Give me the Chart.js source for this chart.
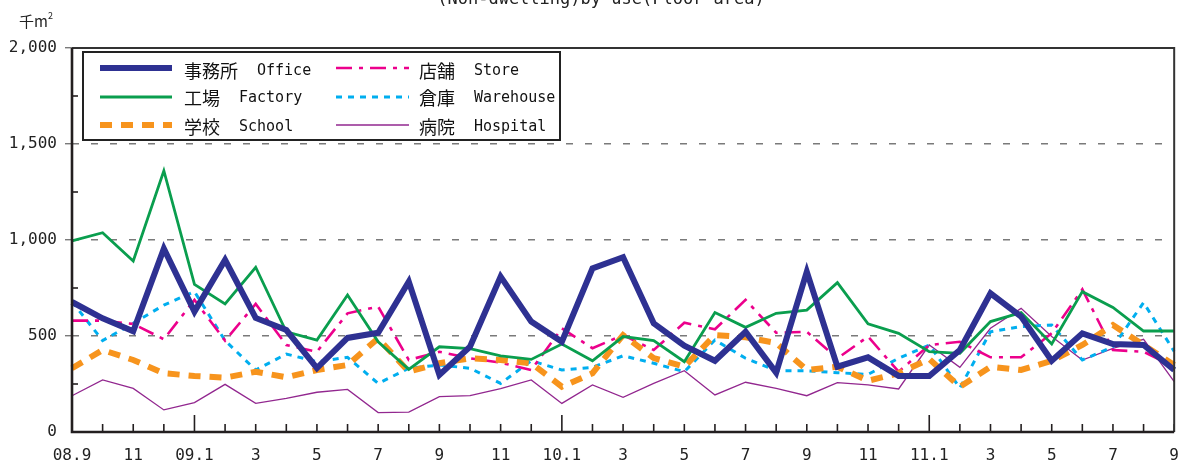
<!DOCTYPE html>
<html><head><meta charset="utf-8">
<script src="https://cdn.jsdelivr.net/npm/chart.js@4"></script>
<style>html,body{margin:0;padding:0;background:#fff;}canvas{display:block}</style>
</head><body>
<canvas id="c" width="1179" height="465"></canvas>
<script>
// ---- data ----
const months = ['08.9','10','11','12','09.1','2','3','4','5','6','7','8','9','10','11','12',
  '10.1','2','3','4','5','6','7','8','9','10','11','12','11.1','2','3','4','5','6','7','8','9'];
const office    = [677,592,525,955,627,896,594,531,333,490,517,783,297,444,809,575,470,852,910,566,450,371,522,309,835,340,389,292,292,427,722,601,371,514,458,453,323];
const factory   = [995,1038,891,1361,769,667,858,522,479,714,470,326,444,434,397,378,458,371,497,476,366,622,545,618,635,778,563,514,418,410,575,622,458,731,649,526,526];
const school    = [332,427,375,306,292,283,314,285,323,349,488,314,358,384,375,358,236,306,505,385,340,505,493,464,323,340,267,306,380,235,340,323,371,453,557,453,349];
const store     = [580,580,563,483,688,476,667,453,418,618,653,375,418,384,361,323,540,436,505,427,569,535,688,517,522,384,497,314,453,470,389,389,514,743,427,418,340];
const warehouse = [679,476,566,661,731,476,323,406,366,389,253,332,349,332,253,371,323,337,397,358,314,479,384,319,319,309,300,384,453,230,522,549,557,375,444,674,420];
const hospital  = [189,271,227,115,153,248,149,175,207,222,101,104,184,189,226,271,149,245,181,253,319,193,259,227,189,257,245,224,453,337,540,644,497,375,436,483,262];
const namesJa = ['事務所','工場','学校','店舗','倉庫','病院'];
const namesEn = ['Office','Factory','School','Store','Warehouse','Hospital'];
const yTickValues = [0,500,1000,1500,2000];
const titleText = '(Non-dwelling)by use(Floor area)';
const unitText = '千m';

// ---- styles ----
const styles = [
  {c:'#2E3192', w:6,   d:[]},
  {c:'#0A9E4E', w:2.8, d:[]},
  {c:'#F7941D', w:6,   d:[12,9]},
  {c:'#EC008C', w:2.6, d:[16,7,4,7]},
  {c:'#00AEEF', w:3,   d:[6,6]},
  {c:'#92278F', w:1.3, d:[]}
];
const series = [office, factory, school, store, warehouse, hospital];

const monoFont = "'DejaVu Sans Mono', 'Liberation Mono', monospace";
const cjkFont = "'Noto Sans CJK JP', 'Noto Sans CJK SC', sans-serif";

const framePlugin = {
  id: 'frame',
  afterDraw(chart) {
    const {ctx, chartArea: a, scales: {x, y}} = chart;
    ctx.save();
    ctx.strokeStyle = '#231F20';
    // inward x ticks
    ctx.lineWidth = 1.6;
    for (let i = 1; i < months.length; i++) {
      const px = x.getPixelForTick(i);
      const len = months[i].includes('.') ? 17 : 8;
      ctx.beginPath(); ctx.moveTo(px, a.bottom); ctx.lineTo(px, a.bottom - len); ctx.stroke();
    }
    // inward y ticks
    y.ticks.forEach(t => {
      if (t.value % 500 !== 0) {
        const py = y.getPixelForValue(t.value);
        ctx.beginPath(); ctx.moveTo(a.left, py); ctx.lineTo(a.left + 6, py); ctx.stroke();
      }
    });
    // frame
    ctx.lineWidth = 2;
    ctx.strokeStyle = '#333';
    ctx.beginPath(); ctx.moveTo(a.left, a.top); ctx.lineTo(a.right, a.top); ctx.lineTo(a.right, a.bottom); ctx.stroke();
    ctx.lineWidth = 2.6;
    ctx.strokeStyle = '#231F20';
    ctx.beginPath(); ctx.moveTo(a.left, a.top); ctx.lineTo(a.left, a.bottom); ctx.lineTo(a.right, a.bottom); ctx.stroke();

    // title (cut off at top) and unit
    ctx.fillStyle = '#222';
    ctx.font = '17px ' + monoFont;
    ctx.textAlign = 'center'; ctx.textBaseline = 'alphabetic';
    ctx.fillText(titleText, 601, 4);
    ctx.textAlign = 'left';
    ctx.font = '15px ' + cjkFont;
    ctx.fillText(unitText, 19, 27);
    const w = ctx.measureText(unitText).width;
    ctx.font = '9px ' + cjkFont;
    ctx.fillText('2', 19 + w, 19);

    // legend box
    const bx = a.left + 11, by = a.top + 4, bw = 477, bh = 88;
    ctx.fillStyle = '#fff'; ctx.fillRect(bx, by, bw, bh);
    ctx.strokeStyle = '#222'; ctx.lineWidth = 2; ctx.strokeRect(bx, by, bw, bh);
    const cols = [{lx: bx + 17, lw: 72, tx: bx + 101}, {lx: bx + 253, lw: 73, tx: bx + 336}];
    const lineY = [by + 16, by + 45, by + 73];
    const textY = [by + 19, by + 46.5, by + 75];
    const place = [[0,0],[1,0],[2,0],[0,1],[1,1],[2,1]]; // [row, col] per dataset
    chart.data.datasets.forEach((ds, i) => {
      const [r, cI] = place[i];
      const col = cols[cI];
      ctx.save();
      ctx.strokeStyle = ds.borderColor; ctx.lineWidth = ds.borderWidth;
      ctx.setLineDash(ds.borderDash || []);
      ctx.beginPath(); ctx.moveTo(col.lx, lineY[r]); ctx.lineTo(col.lx + col.lw, lineY[r]); ctx.stroke();
      ctx.restore();
      ctx.fillStyle = '#111';
      ctx.textBaseline = 'middle'; ctx.textAlign = 'left';
      ctx.font = '18px ' + cjkFont;
      ctx.fillText(namesJa[i], col.tx, textY[r]);
      ctx.font = '15px ' + monoFont;
      ctx.fillText(namesEn[i], col.tx + namesJa[i].length * 18 + 19, textY[r]);
    });
    ctx.restore();
  }
};

new Chart(document.getElementById('c'), {
  type: 'line',
  data: {
    labels: months,
    datasets: series.map((d, i) => ({
      label: namesJa[i] + '  ' + namesEn[i],
      data: d,
      borderColor: styles[i].c,
      backgroundColor: styles[i].c,
      borderWidth: styles[i].w,
      borderDash: styles[i].d,
      pointRadius: 0,
      tension: 0,
      fill: false
    }))
  },
  options: {
    responsive: false,
    animation: false,
    layout: {padding: {top: 48, right: 3, left: 0, bottom: 0}},
    plugins: {legend: {display: false}, tooltip: {enabled: false}, title: {display: false}},
    elements: {line: {borderCapStyle: 'butt', borderJoinStyle: 'miter'}},
    scales: {
      x: {
        offset: false,
        grid: {display: true, drawOnChartArea: false, drawTicks: true, tickLength: 14,
               color: 'rgba(0,0,0,0)', tickColor: 'rgba(0,0,0,0)'},
        border: {display: false},
        ticks: {
          autoSkip: false, maxRotation: 0, minRotation: 0, padding: 0,
          color: '#222', font: {family: monoFont, size: 16},
          callback: (v, i) => (i % 2 === 0 ? months[i] : '')
        },
        afterFit: s => { s.height = 33; }
      },
      y: {
        min: 0, max: 2000,
        grid: {
          drawTicks: true, tickLength: 7, lineWidth: 1.4,
          color: c => (c.tick && yTickValues.includes(c.tick.value) && c.tick.value !== 0) ? '#7a7a7a' : 'rgba(0,0,0,0)'
        },
        border: {display: false, dash: [7, 12]},
        ticks: {
          stepSize: 250, padding: 8, color: '#222',
          font: {family: monoFont, size: 16},
          callback: v => (yTickValues.includes(v) ? v.toLocaleString('en-US') : '')
        },
        afterFit: s => { s.width = 72; }
      }
    }
  },
  plugins: [framePlugin]
});
</script>
</body></html>
